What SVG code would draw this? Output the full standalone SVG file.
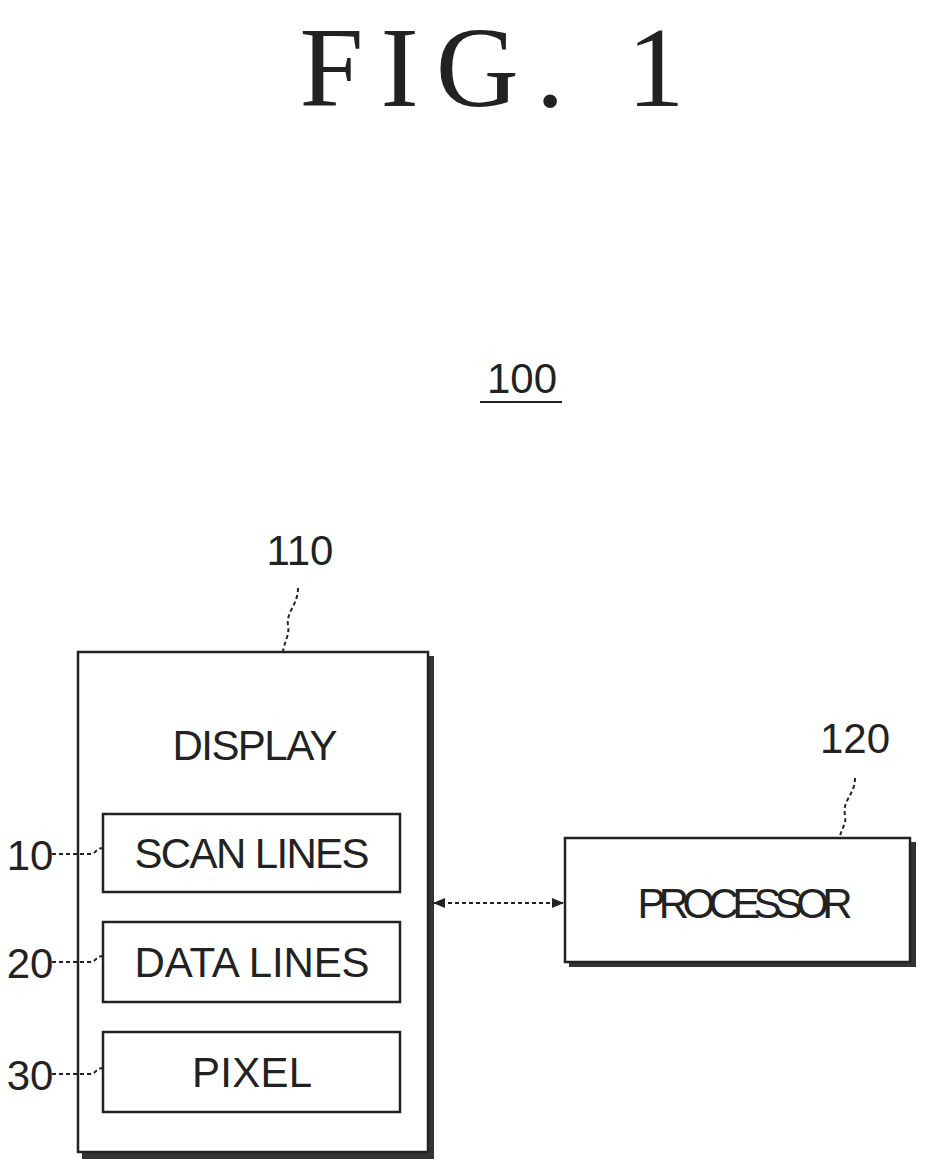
<svg xmlns="http://www.w3.org/2000/svg" width="929" height="1168" viewBox="0 0 929 1168">
<defs>
<marker id="ah" markerWidth="12" markerHeight="10" refX="11" refY="5" orient="auto-start-reverse" markerUnits="userSpaceOnUse">
<path d="M0,0 L12,5 L0,10 Z" fill="#222"/>
</marker>
</defs>
<style>
.box{fill:#fff;stroke:#222;stroke-width:2.5}
.sh{fill:#333}
.t{font-family:"Liberation Sans Narrow","Liberation Sans",Arial,sans-serif;fill:#222;font-size:42px}
.lead{fill:none;stroke:#222;stroke-width:2;stroke-dasharray:4 3}
</style>
<rect width="929" height="1168" fill="#fff"/>
<text x="492" y="106" text-anchor="middle" font-family="Liberation Serif,serif" font-size="115" fill="#222" textLength="385" lengthAdjust="spacing">FIG. 1</text>
<g id="n100">
<text x="522" y="393" text-anchor="middle" class="t" font-size="36">100</text>
<line x1="480" y1="402" x2="562" y2="402" stroke="#222" stroke-width="2"/>
</g>
<g id="display">
<rect class="sh" x="82" y="656" width="352" height="503"/>
<rect class="box" x="78" y="652" width="350" height="500"/>
<text x="255" y="760" text-anchor="middle" class="t" textLength="165">DISPLAY</text>
<text x="300" y="565" text-anchor="middle" class="t">110</text>
<path class="lead" d="M298,588 C298,605 286,612 288,625 C290,635 284,642 283,652"/>
</g>
<g id="scan">
<rect class="box" x="103" y="814" width="297" height="78"/>
<text x="252" y="868" text-anchor="middle" class="t" textLength="235">SCAN LINES</text>
<text x="30" y="870" text-anchor="middle" class="t">10</text>
<path class="lead" d="M52,854 L90,854 C96,854 96,848 103,848"/>
</g>
<g id="data">
<rect class="box" x="103" y="922" width="297" height="80"/>
<text x="252" y="977" text-anchor="middle" class="t" textLength="235">DATA LINES</text>
<text x="30" y="978" text-anchor="middle" class="t">20</text>
<path class="lead" d="M52,962 L90,962 C96,962 96,956 103,956"/>
</g>
<g id="pixel">
<rect class="box" x="103" y="1032" width="297" height="80"/>
<text x="252" y="1087" text-anchor="middle" class="t" textLength="120">PIXEL</text>
<text x="30" y="1090" text-anchor="middle" class="t">30</text>
<path class="lead" d="M52,1074 L90,1074 C96,1074 96,1068 103,1068"/>
</g>
<g id="processor">
<rect class="sh" x="569" y="842" width="347" height="125"/>
<rect class="box" x="565" y="838" width="345" height="124"/>
<text x="745" y="918" text-anchor="middle" class="t" textLength="215">PROCESSOR</text>
<text x="855" y="753" text-anchor="middle" class="t">120</text>
<path class="lead" d="M855,778 C855,795 842,800 845,815 C847,825 840,830 840,838"/>
</g>
<g id="connectors">
<line x1="434" y1="903" x2="563" y2="903" stroke="#222" stroke-width="2" stroke-dasharray="4 3" marker-start="url(#ah)" marker-end="url(#ah)"/>
</g>
</svg>
